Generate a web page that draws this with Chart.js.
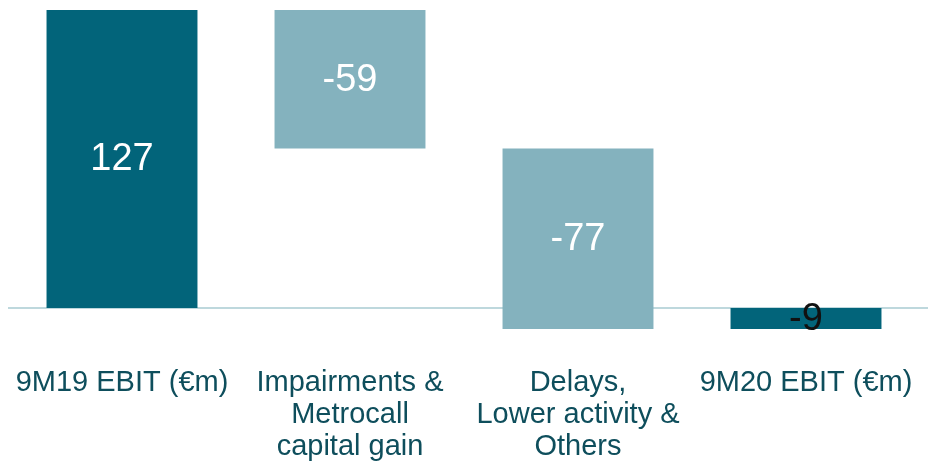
<!DOCTYPE html>
<html>
<head>
<meta charset="utf-8">
<script src="https://cdn.jsdelivr.net/npm/chart.js@4/dist/chart.umd.min.js"></script>
<style>
  html, body { margin: 0; padding: 0; background: #fff; }
  #wrap { width: 928px; height: 467px; }
</style>
</head>
<body>
<div id="wrap"><canvas id="myChart"></canvas></div>
<script>
const labels = [
  ['9M19 EBIT (€m)'],
  ['Impairments &', 'Metrocall', 'capital gain'],
  ['Delays,', 'Lower activity &', 'Others'],
  ['9M20 EBIT (€m)']
];
const values = [127, -59, -77, -9];
const isTotal = [true, false, false, true];

// build floating ranges for the waterfall
let running = 0;
const ranges = values.map((v, i) => {
  if (isTotal[i]) { running = v; return [0, v]; }
  const start = running;
  running += v;
  return [start, running];
});

const dark = '#02647A';
const light = '#84B2BE';

const zeroLine = {
  id: 'zeroLine',
  beforeDatasetsDraw(chart) {
    const ctx = chart.ctx;
    const y = chart.scales.y.getPixelForValue(0);
    ctx.save();
    ctx.strokeStyle = '#A8CBD2';
    ctx.lineWidth = 1.5;
    ctx.beginPath();
    ctx.moveTo(chart.chartArea.left, y);
    ctx.lineTo(chart.width, y);
    ctx.stroke();
    ctx.restore();
  }
};

const barValues = {
  id: 'barValues',
  afterDatasetsDraw(chart) {
    const ctx = chart.ctx;
    const meta = chart.getDatasetMeta(0);
    ctx.save();
    ctx.font = '38px "Liberation Sans", Arial, sans-serif';
    ctx.textAlign = 'center';
    ctx.textBaseline = 'middle';
    meta.data.forEach((bar, i) => {
      const p = bar.getProps(['x', 'y', 'base'], true);
      ctx.fillStyle = i === values.length - 1 ? '#111' : '#fff';
      ctx.fillText(String(values[i]), p.x, (p.y + p.base) / 2 + 1);
    });
    ctx.restore();
  }
};

new Chart(document.getElementById('myChart'), {
  type: 'bar',
  data: {
    labels: labels,
    datasets: [{
      data: ranges,
      backgroundColor: isTotal.map(t => t ? dark : light),
      borderWidth: 0,
      categoryPercentage: 1,
      barPercentage: 0.662
    }]
  },
  options: {
    responsive: true,
    maintainAspectRatio: false,
    animation: false,
    layout: { padding: { top: 10, left: 8, right: 8, bottom: 0 } },
    plugins: { legend: { display: false }, tooltip: { enabled: false } },
    scales: {
      x: {
        grid: { display: false, drawTicks: false },
        border: { display: false },
        ticks: {
          color: '#0E4E5C',
          font: { family: '"Liberation Sans", Arial, sans-serif', size: 29, lineHeight: 1.1 },
          padding: 38,
          maxRotation: 0,
          autoSkip: false
        },
        afterFit(scale) {
          // keep wide labels from squeezing the plot; fix the label band height
          scale.paddingLeft = 0;
          scale.paddingRight = 0;
          scale.height = 138;
        }
      },
      y: {
        display: false,
        min: -9,
        max: 127
      }
    }
  },
  plugins: [zeroLine, barValues]
});
</script>
</body>
</html>
